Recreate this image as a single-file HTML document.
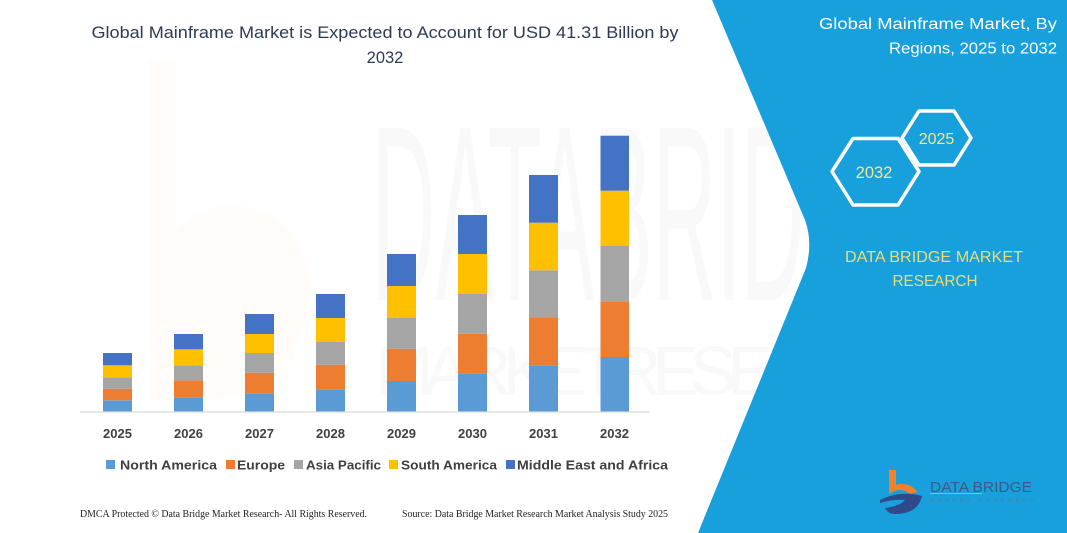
<!DOCTYPE html>
<html><head><meta charset="utf-8"><style>
html,body{margin:0;padding:0;background:#fff;}
svg{display:block;}
</style></head><body>
<svg width="1067" height="533" viewBox="0 0 1067 533" xmlns="http://www.w3.org/2000/svg">
<rect x="0" y="0" width="1067" height="533" fill="#ffffff"/>
<!-- faint watermark -->
<g opacity="0.025">
<path d="M150,60 L175,60 L175,230 Q230,180 290,230 Q330,290 290,360 Q240,410 160,400 L150,400 Z" fill="#ed7d31"/>
</g>
<g opacity="0.02">
<text x="372" y="300" font-family="Liberation Sans, sans-serif" font-size="250" textLength="560" lengthAdjust="spacingAndGlyphs" fill="#000">DATABRIDGE</text>
<text x="375" y="395" font-family="Liberation Sans, sans-serif" font-size="70" textLength="560" lengthAdjust="spacing" fill="#000">MARKETRESEARCH</text>
</g>
<!-- blue panel -->
<path d="M712,0 L1067,0 L1067,533 L698,533 L806,268 Q813,242 805,220 Z" fill="#18a0dc"/>

<!-- title -->
<text x="385" y="38" text-anchor="middle" font-family="Liberation Sans, sans-serif" font-size="16.5" fill="#2b3a55" textLength="587" lengthAdjust="spacingAndGlyphs">Global Mainframe Market is Expected to Account for USD 41.31 Billion by</text>
<text x="385" y="63" text-anchor="middle" font-family="Liberation Sans, sans-serif" font-size="16.5" fill="#2b3a55">2032</text>

<!-- bars -->
<g>
<rect x="103" y="400.3" width="29" height="11.7" fill="#5b9bd5"/>
<rect x="103" y="388.7" width="29" height="11.6" fill="#ed7d31"/>
<rect x="103" y="377.3" width="29" height="11.4" fill="#a5a5a5"/>
<rect x="103" y="365.3" width="29" height="12" fill="#ffc000"/>
<rect x="103" y="353" width="29" height="12.3" fill="#4472c4"/>
<rect x="174" y="397.3" width="29" height="14.7" fill="#5b9bd5"/>
<rect x="174" y="380.3" width="29" height="17" fill="#ed7d31"/>
<rect x="174" y="365.3" width="29" height="15" fill="#a5a5a5"/>
<rect x="174" y="349.3" width="29" height="16" fill="#ffc000"/>
<rect x="174" y="334" width="29" height="15.3" fill="#4472c4"/>
<rect x="245" y="393.3" width="29" height="18.7" fill="#5b9bd5"/>
<rect x="245" y="372.7" width="29" height="20.6" fill="#ed7d31"/>
<rect x="245" y="353" width="29" height="19.7" fill="#a5a5a5"/>
<rect x="245" y="334" width="29" height="19" fill="#ffc000"/>
<rect x="245" y="314" width="29" height="20" fill="#4472c4"/>
<rect x="316" y="389.3" width="29" height="22.7" fill="#5b9bd5"/>
<rect x="316" y="364.7" width="29" height="24.6" fill="#ed7d31"/>
<rect x="316" y="342" width="29" height="22.7" fill="#a5a5a5"/>
<rect x="316" y="318" width="29" height="24" fill="#ffc000"/>
<rect x="316" y="294" width="29" height="24" fill="#4472c4"/>
<rect x="387" y="381" width="29" height="31" fill="#5b9bd5"/>
<rect x="387" y="348.7" width="29" height="32.3" fill="#ed7d31"/>
<rect x="387" y="318" width="29" height="30.7" fill="#a5a5a5"/>
<rect x="387" y="286" width="29" height="32" fill="#ffc000"/>
<rect x="387" y="254" width="29" height="32" fill="#4472c4"/>
<rect x="458" y="373.3" width="29" height="38.7" fill="#5b9bd5"/>
<rect x="458" y="333.7" width="29" height="39.6" fill="#ed7d31"/>
<rect x="458" y="294" width="29" height="39.7" fill="#a5a5a5"/>
<rect x="458" y="254" width="29" height="40" fill="#ffc000"/>
<rect x="458" y="215" width="29" height="39" fill="#4472c4"/>
<rect x="529" y="365.3" width="29" height="46.7" fill="#5b9bd5"/>
<rect x="529" y="318" width="29" height="47.3" fill="#ed7d31"/>
<rect x="529" y="270.3" width="29" height="47.7" fill="#a5a5a5"/>
<rect x="529" y="222.7" width="29" height="47.6" fill="#ffc000"/>
<rect x="529" y="175" width="29" height="47.7" fill="#4472c4"/>
<rect x="600.5" y="357" width="28.5" height="55" fill="#5b9bd5"/>
<rect x="600.5" y="301.3" width="28.5" height="55.7" fill="#ed7d31"/>
<rect x="600.5" y="246" width="28.5" height="55.3" fill="#a5a5a5"/>
<rect x="600.5" y="190.7" width="28.5" height="55.3" fill="#ffc000"/>
<rect x="600.5" y="135.7" width="28.5" height="55" fill="#4472c4"/>
</g>
<line x1="80" y1="412" x2="650" y2="412" stroke="#d9d9d9" stroke-width="1.2"/>

<!-- year labels -->
<g font-family="Liberation Sans, sans-serif" font-size="13" font-weight="bold" fill="#404040" text-anchor="middle">
<text x="117.5" y="438">2025</text>
<text x="188.5" y="438">2026</text>
<text x="259.5" y="438">2027</text>
<text x="330.5" y="438">2028</text>
<text x="401.5" y="438">2029</text>
<text x="472.5" y="438">2030</text>
<text x="543.5" y="438">2031</text>
<text x="614.5" y="438">2032</text>
</g>

<!-- legend -->
<g font-family="Liberation Sans, sans-serif" font-size="13" font-weight="bold" fill="#404040">
<rect x="106" y="460" width="9" height="9" fill="#5b9bd5"/>
<text x="120" y="469.5" textLength="97" lengthAdjust="spacingAndGlyphs">North America</text>
<rect x="226" y="460" width="9" height="9" fill="#ed7d31"/>
<text x="237" y="469.5" textLength="48" lengthAdjust="spacingAndGlyphs">Europe</text>
<rect x="294" y="460" width="9" height="9" fill="#a5a5a5"/>
<text x="306" y="469.5" textLength="75" lengthAdjust="spacingAndGlyphs">Asia Pacific</text>
<rect x="389" y="460" width="9" height="9" fill="#ffc000"/>
<text x="401" y="469.5" textLength="96" lengthAdjust="spacingAndGlyphs">South America</text>
<rect x="506" y="460" width="9" height="9" fill="#4472c4"/>
<text x="517" y="469.5" textLength="151" lengthAdjust="spacingAndGlyphs">Middle East and Africa</text>
</g>

<!-- footer -->
<g font-family="Liberation Serif, serif" font-size="10" fill="#222">
<text x="80" y="517" textLength="287" lengthAdjust="spacingAndGlyphs">DMCA Protected © Data Bridge Market Research-  All Rights Reserved.</text>
<text x="402" y="517" textLength="266" lengthAdjust="spacingAndGlyphs">Source: Data Bridge Market Research  Market Analysis Study 2025</text>
</g>

<!-- right panel text -->
<g font-family="Liberation Sans, sans-serif" font-size="16" fill="#ffffff" text-anchor="end">
<text x="1057" y="29" textLength="238" lengthAdjust="spacingAndGlyphs">Global Mainframe Market, By</text>
<text x="1057" y="53.5" textLength="168" lengthAdjust="spacingAndGlyphs">Regions, 2025 to 2032</text>
</g>

<!-- hexagons -->
<g fill="none" stroke="#ffffff" stroke-width="3.5" stroke-linejoin="round">
<path d="M902,138 L919,111 L954,111 L971,138 L954,165 L919,165 Z"/>
<path d="M832,171.5 L853,138.5 L898,138.5 L919,171.5 L898,205 L853,205 Z"/>
</g>
<g font-family="Liberation Sans, sans-serif" fill="#f3e98a" text-anchor="middle">
<text x="936.5" y="144" font-size="16">2025</text>
<text x="874" y="178" font-size="16.5">2032</text>
</g>

<g font-family="Liberation Sans, sans-serif" font-size="16" fill="#eadc78" text-anchor="middle">
<text x="934" y="262" textLength="178" lengthAdjust="spacingAndGlyphs">DATA BRIDGE MARKET</text>
<text x="935" y="286" textLength="85" lengthAdjust="spacingAndGlyphs">RESEARCH</text>
</g>

<!-- logo -->
<g>
<rect x="889" y="470" width="7" height="20" fill="#f0822e"/>
<path d="M889,488 Q905,478 918,492 L910,494 Q900,486 889,494 Z" fill="#f0822e"/>
<path d="M880,500 Q900,490 922,496 Q918,514 895,514 Q888,514 885,508 Q900,506 905,500 Q893,499 880,503 Z" fill="#2f4a8a"/>
<text x="930" y="492" font-family="Liberation Sans, sans-serif" font-size="15" fill="#3d5a86" textLength="102" lengthAdjust="spacingAndGlyphs">DATA BRIDGE</text>
<line x1="930" y1="493.5" x2="982" y2="493.5" stroke="#8fb8d8" stroke-width="1"/>
<text x="930" y="502" font-family="Liberation Sans, sans-serif" font-size="5" fill="#5a7aa0" textLength="104" lengthAdjust="spacing">MARKET RESEARCH</text>
</g>
</svg>
</body></html>
